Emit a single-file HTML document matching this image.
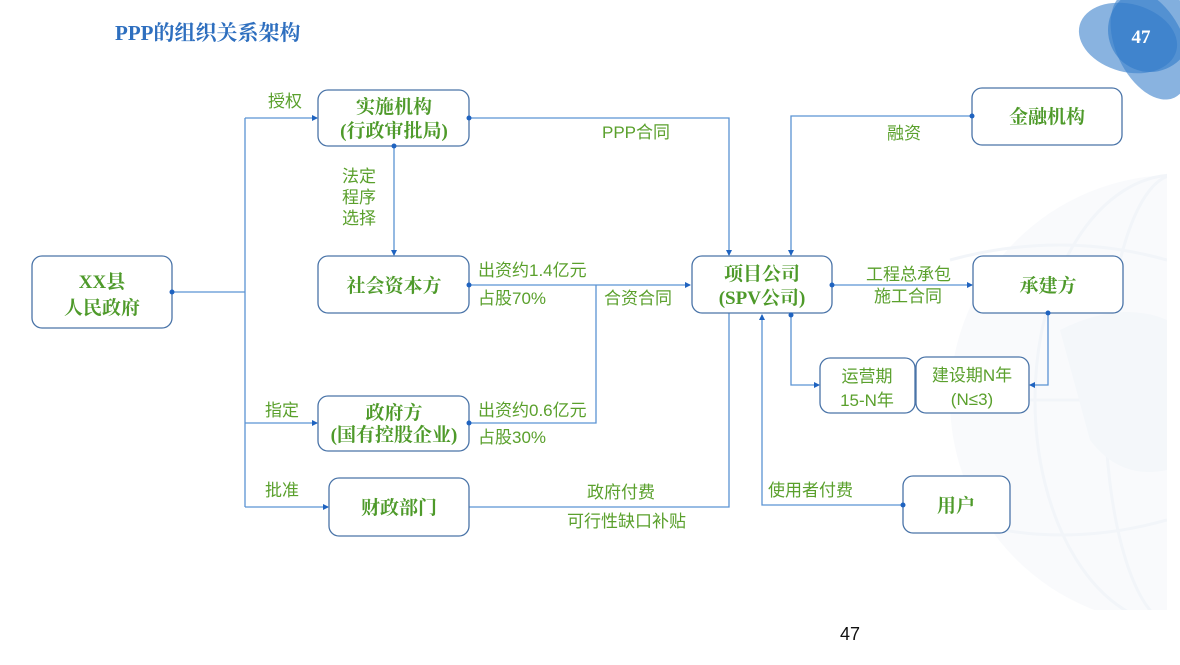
<!DOCTYPE html>
<html><head><meta charset="utf-8"><style>
html,body{margin:0;padding:0;background:#fff;}
svg{display:block;}
.s{font-family:"Liberation Serif","Noto Serif CJK SC",serif;font-weight:bold;fill:#4e9a2a;font-size:19px;text-anchor:middle;}
.l{font-family:"Liberation Sans","Noto Sans CJK SC",sans-serif;fill:#5aa02c;font-size:17px;}
.b{fill:#fff;stroke:#4a74a8;stroke-width:1.3;}
.ln{fill:none;stroke:#5b93d3;stroke-width:1.3;}
.d{fill:#1f63c0;}
</style></head><body>
<svg width="1180" height="665" viewBox="0 0 1180 665" xmlns="http://www.w3.org/2000/svg">
<defs>
<marker id="a" markerWidth="6" markerHeight="6" refX="5" refY="3" orient="auto" markerUnits="userSpaceOnUse"><path d="M0,0 L6,3 L0,6 z" fill="#1f63c0"/></marker>
<clipPath id="gc"><rect x="780" y="130" width="387" height="480"/></clipPath>
</defs>
<!-- globe background -->
<g clip-path="url(#gc)" opacity="0.35">
<circle cx="1175" cy="400" r="225" fill="#eef2f8"/>
<ellipse cx="1175" cy="400" rx="140" ry="225" fill="none" stroke="#dbe4ef" stroke-width="3"/>
<ellipse cx="1175" cy="400" rx="70" ry="225" fill="none" stroke="#dbe4ef" stroke-width="3"/>
<path d="M950,260 Q1060,230 1167,260 M940,400 H1167 M960,520 Q1060,550 1167,520" stroke="#dbe4ef" stroke-width="3" fill="none"/>
<path d="M1060,330 Q1120,300 1167,320 L1167,470 Q1120,480 1090,440 Z" fill="#e2e9f3"/>
</g>
<!-- blob -->
<g>
<ellipse cx="1128" cy="38" rx="50" ry="34" transform="rotate(15 1128 38)" fill="#3a80cc" opacity="0.6"/>
<ellipse cx="1150" cy="45" rx="34" ry="58" transform="rotate(-25 1150 45)" fill="#3a80cc" opacity="0.6"/>
<ellipse cx="1150" cy="30" rx="42" ry="42" fill="#2f79c8" opacity="0.6"/>
</g>
<text x="1141" y="43" font-family="Liberation Serif,serif" font-weight="bold" font-size="19" fill="#fff" text-anchor="middle">47</text>
<text x="115" y="40" font-family="Liberation Serif,'Noto Serif CJK SC',serif" font-weight="bold" font-size="21" fill="#2e6fbf">PPP的组织关系架构</text>

<!-- connectors -->
<path class="ln" d="M172,292 H245 M245,118 V507"/>
<path class="ln" d="M245,118 H317" marker-end="url(#a)"/>
<path class="ln" d="M245,423 H317" marker-end="url(#a)"/>
<path class="ln" d="M245,507 H328" marker-end="url(#a)"/>
<path class="ln" d="M394,146 V255" marker-end="url(#a)"/>
<path class="ln" d="M469,118 H729 V255" marker-end="url(#a)"/>
<path class="ln" d="M469,285 H690" marker-end="url(#a)"/>
<path class="ln" d="M469,423 H596 V285"/>
<path class="ln" d="M469,507 H729 V313"/>
<path class="ln" d="M972,116 H791 V255" marker-end="url(#a)"/>
<path class="ln" d="M832,285 H972" marker-end="url(#a)"/>
<path class="ln" d="M791,315 V385 H819" marker-end="url(#a)"/>
<path class="ln" d="M1048,313 V385 H1030" marker-end="url(#a)"/>
<path class="ln" d="M903,505 H762 V315" marker-end="url(#a)"/>

<!-- boxes -->
<rect class="b" x="32" y="256" width="140" height="72" rx="10"/>
<rect class="b" x="318" y="90" width="151" height="56" rx="10"/>
<rect class="b" x="318" y="256" width="151" height="57" rx="10"/>
<rect class="b" x="318" y="396" width="151" height="55" rx="10"/>
<rect class="b" x="329" y="478" width="140" height="58" rx="10"/>
<rect class="b" x="692" y="256" width="140" height="57" rx="10"/>
<rect class="b" x="972" y="88" width="150" height="57" rx="10"/>
<rect class="b" x="973" y="256" width="150" height="57" rx="10"/>
<rect class="b" x="820" y="358" width="95" height="55" rx="10"/>
<rect class="b" x="916" y="357" width="113" height="56" rx="10"/>
<rect class="b" x="903" y="476" width="107" height="57" rx="10"/>

<!-- dots -->
<circle class="d" cx="172" cy="292" r="2.5"/><circle class="d" cx="469" cy="118" r="2.5"/>
<circle class="d" cx="394" cy="146" r="2.5"/><circle class="d" cx="469" cy="285" r="2.5"/>
<circle class="d" cx="469" cy="423" r="2.5"/><circle class="d" cx="972" cy="116" r="2.5"/>
<circle class="d" cx="832" cy="285" r="2.5"/><circle class="d" cx="791" cy="315" r="2.5"/>
<circle class="d" cx="1048" cy="313" r="2.5"/><circle class="d" cx="903" cy="505" r="2.5"/>

<!-- box text -->
<text class="s" x="102" y="288" font-size="22">XX县</text>
<text class="s" x="102" y="314" font-size="22">人民政府</text>
<text class="s" x="394" y="113">实施机构</text>
<text class="s" x="394" y="137">(行政审批局)</text>
<text class="s" x="394" y="292">社会资本方</text>
<text class="s" x="394" y="419" font-size="17">政府方</text>
<text class="s" x="394" y="441" font-size="17">(国有控股企业)</text>
<text class="s" x="399" y="514">财政部门</text>
<text class="s" x="762" y="280">项目公司</text>
<text class="s" x="762" y="304">(SPV公司)</text>
<text class="s" x="1047" y="123">金融机构</text>
<text class="s" x="1048" y="292">承建方</text>
<text class="s" x="956" y="512">用户</text>
<text class="l" x="867" y="382" font-size="20" text-anchor="middle">运营期</text>
<text class="l" x="867" y="406" font-size="20" text-anchor="middle">15-N年</text>
<text class="l" x="972" y="381" font-size="20" text-anchor="middle">建设期N年</text>
<text class="l" x="972" y="405" font-size="20" text-anchor="middle">(N≤3)</text>

<!-- labels -->
<text class="l" x="268" y="107">授权</text>
<text class="l" x="342" y="182">法定</text>
<text class="l" x="342" y="203">程序</text>
<text class="l" x="342" y="224">选择</text>
<text class="l" x="478" y="276">出资约1.4亿元</text>
<text class="l" x="478" y="304">占股70%</text>
<text class="l" x="604" y="304">合资合同</text>
<text class="l" x="602" y="138">PPP合同</text>
<text class="l" x="478" y="416">出资约0.6亿元</text>
<text class="l" x="478" y="443">占股30%</text>
<text class="l" x="265" y="416">指定</text>
<text class="l" x="265" y="496">批准</text>
<text class="l" x="587" y="498">政府付费</text>
<text class="l" x="567" y="527">可行性缺口补贴</text>
<text class="l" x="887" y="139">融资</text>
<text class="l" x="866" y="280">工程总承包</text>
<text class="l" x="874" y="302">施工合同</text>
<text class="l" x="768" y="496">使用者付费</text>
<text x="850" y="640" font-family="Liberation Sans,sans-serif" font-size="18" fill="#111" text-anchor="middle">47</text>
</svg>
</body></html>
